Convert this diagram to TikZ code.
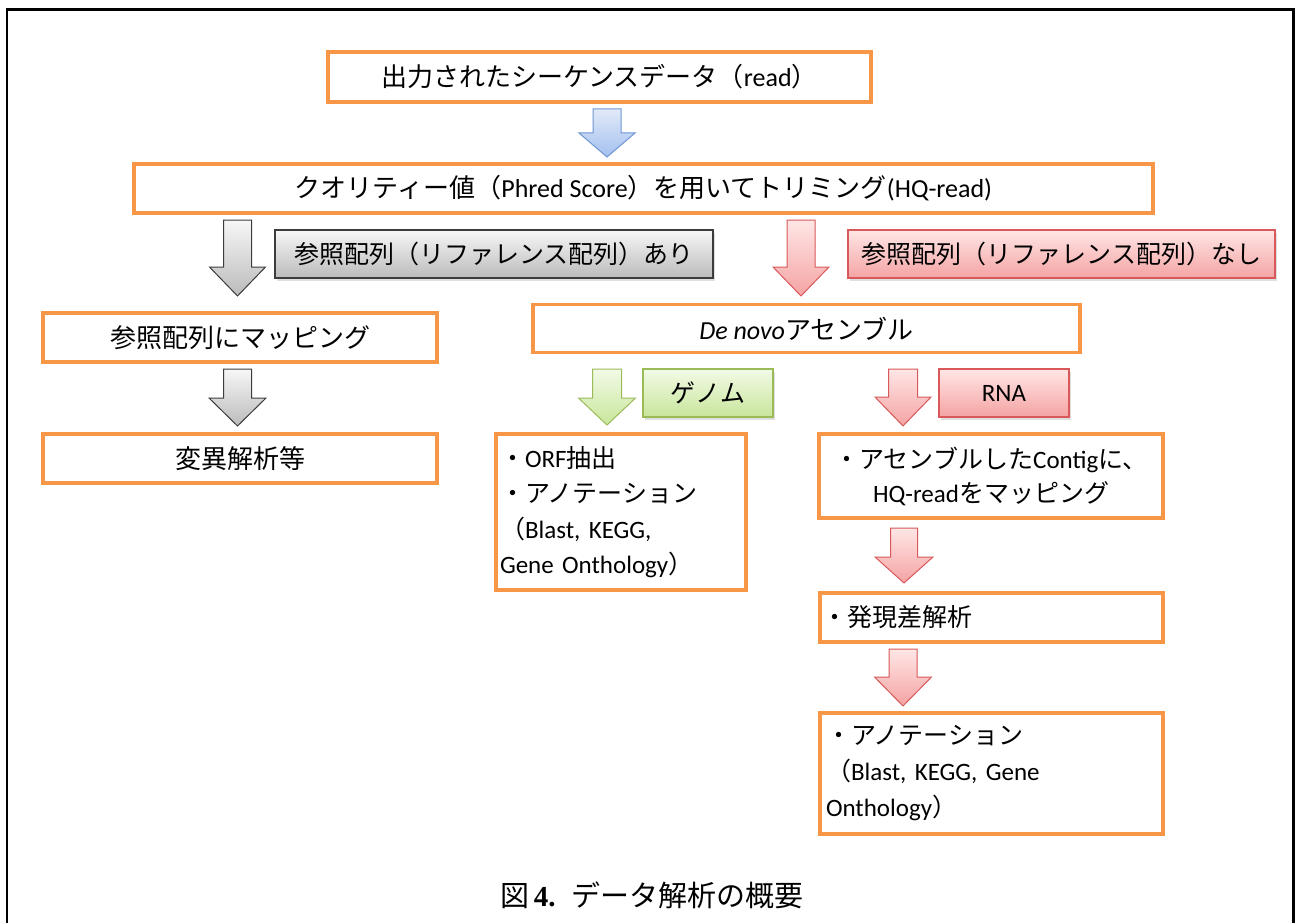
\documentclass[tikz,border=0pt]{standalone}
\usepackage{fontspec}
\setmainfont{Carlito}
\newfontfamily\jp{Noto Sans CJK JP}
\newfontfamily\capserif{Liberation Serif}
\usetikzlibrary{shadows}
\newcommand\J[1]{{\jp #1}}
\definecolor{boxorange}{HTML}{F79646}
\definecolor{pinkTop}{HTML}{FFE6E6}
\definecolor{pinkBot}{HTML}{F5A3A3}
\definecolor{pinkLine}{HTML}{D9585A}
\definecolor{greenTop}{HTML}{F2FAE6}
\definecolor{greenBot}{HTML}{C8E69B}
\definecolor{greenLine}{HTML}{9BBB59}
\definecolor{grayTop}{HTML}{F7F7F7}
\definecolor{grayBot}{HTML}{BBBBBB}
\definecolor{grayLine}{HTML}{3C3C3C}
\definecolor{blueTop}{HTML}{E2EAF9}
\definecolor{blueBot}{HTML}{A3C0EE}
\definecolor{blueLine}{HTML}{6E96D4}
% style, cx, top y, head y, tip y, shaft half width, head half width
\newcommand\blockarrow[7]{%
  \path[#1] ({#2-#6},#3) -- ({#2+#6},#3) -- ({#2+#6},#4) -- ({#2+#7},#4) -- (#2,#5)
    -- ({#2-#7},#4) -- ({#2-#6},#4) -- cycle;}
\begin{document}
\begin{tikzpicture}[x=1pt,y=-1pt,
  box/.style={draw=boxorange, line width=3.2pt, fill=white, inner sep=0pt,
    font=\fontsize{26}{30}\selectfont},
  sbox/.style={box, font=\fontsize{25}{35.5}\selectfont},
  lbl/.style={line width=1.1pt, inner sep=0pt, font=\fontsize{25}{30}\selectfont,
    drop shadow={opacity=0.25, shadow xshift=1.5pt, shadow yshift=-2.5pt}},
  graylbl/.style={lbl, draw=grayLine, top color=grayTop, bottom color=grayBot},
  pinklbl/.style={lbl, draw=pinkLine, top color=pinkTop, bottom color=pinkBot},
  greenlbl/.style={lbl, draw=greenLine, top color=greenTop, bottom color=greenBot},
  grayarr/.style={draw=grayLine, line width=1pt, top color=grayTop, bottom color=grayBot},
  pinkarr/.style={draw=pinkLine, line width=1pt, top color=pinkTop, bottom color=pinkBot},
  greenarr/.style={draw=greenLine, line width=1pt, top color=greenTop, bottom color=greenBot},
  bluearr/.style={draw=blueLine, line width=1pt, top color=blueTop, bottom color=blueBot},
]
\useasboundingbox (0,0) rectangle (1296,923);
\fill[white] (0,0) rectangle (1296,923);
% frame
\draw[line width=2.3pt] (7,925) -- (7,9.5) -- (1293.5,9.5) -- (1293.5,925);

% main boxes
\node[box, minimum width=543pt, minimum height=50pt] (read) at (599.5,77)
  {\J{出力されたシーケンスデータ（}read\J{）}};
\node[box, minimum width=1019pt, minimum height=49pt] (trim) at (643.5,188.5)
  {\J{クオリティー値（}Phred Score\J{）を用いてトリミング}(HQ-read)};

% labels
\node[graylbl, minimum width=438pt, minimum height=48pt] (ari) at (494,254)
  {\J{参照配列（リファレンス配列）あり}};
\node[pinklbl, minimum width=427pt, minimum height=48pt] (nashi) at (1061.5,254)
  {\J{参照配列（リファレンス配列）なし}};

% left column
\node[box, minimum width=394pt, minimum height=49pt] (map) at (240,337.5)
  {\J{参照配列にマッピング}};
\node[box, minimum width=394pt, minimum height=49pt] (mut) at (240,458.5)
  {\J{変異解析等}};

% de novo
\node[box, minimum width=547pt, minimum height=48pt] (denovo) at (806.5,328.5)
  {\textit{De novo}\J{アセンブル}};
\node[greenlbl, minimum width=130pt, minimum height=48pt] (genome) at (708,393)
  {\J{ゲノム}};
\node[pinklbl, minimum width=130pt, minimum height=48pt] (rna) at (1004,393)
  {RNA};

\node[sbox, minimum width=250pt, minimum height=156pt, inner xsep=4pt,
  text width=242pt, align=left] (orf) at (621,512)
  {\J{・}ORF\J{抽出}\\\J{・アノテーション}\\\J{（}Blast, KEGG,\\Gene Onthology\J{）}};
\node[box, font=\fontsize{25}{34}\selectfont, minimum width=344pt, minimum height=84pt,
  align=center] (contig) at (991,476)
  {\J{・アセンブルした}Contig\J{に、}\\HQ-read\J{をマッピング}};
\node[sbox, minimum width=343pt, minimum height=49pt, inner xsep=2pt,
  text width=339pt, align=left] (expr) at (991.5,617.5)
  {\J{・発現差解析}};
\node[sbox, font=\fontsize{25}{36}\selectfont, minimum width=343pt, minimum height=121pt,
  inner xsep=6pt, text width=331pt, align=left] (annot) at (991.5,773.5)
  {\J{・アノテーション}\\\J{（}Blast, KEGG, Gene\\Onthology\J{）}};

% block arrows
\blockarrow{bluearr}{607}{109}{133}{157}{14}{28}
\blockarrow{grayarr}{237.5}{220}{267}{296}{14}{28}
\blockarrow{pinkarr}{801}{220}{267}{296}{14}{28}
\blockarrow{grayarr}{237.5}{369}{398}{426}{14}{28.5}
\blockarrow{greenarr}{607}{369}{398}{425}{14.5}{28.5}
\blockarrow{pinkarr}{903}{369}{397}{426}{14.5}{28}
\blockarrow{pinkarr}{904}{528}{557}{583}{13.5}{29}
\blockarrow{pinkarr}{903}{649}{677}{706}{14}{28.5}

% caption
\node[font=\fontsize{29}{32}\selectfont] (cap) at (652,895)
  {\J{図}\,{\capserif\bfseries 4.}\;\;\J{データ解析の概要}};
\end{tikzpicture}
\end{document}
